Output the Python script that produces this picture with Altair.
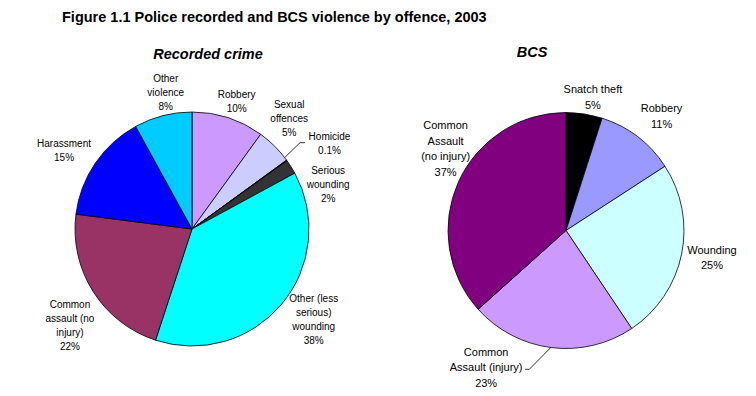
import altair as alt
import pandas as pd

FONT = "Liberation Sans, Arial, sans-serif"

# ---- Recorded crime (clockwise from 12 o'clock) ----
rec_cats = ["Robbery", "Sexual offences", "Homicide", "Serious wounding",
            "Other (less serious) wounding", "Common assault (no injury)",
            "Harassment", "Other violence"]
rec_values = [10, 5, 0.1, 2, 38, 22, 15, 8]
rec_label_lines = ["Robbery", "Sexual\noffences", "Homicide", "Serious\nwounding",
                   "Other (less\nserious)\nwounding", "Common\nassault (no\ninjury)",
                   "Harassment", "Other\nviolence"]
rec_colors = ["#CC99FF", "#CCCCFF", "#000000", "#333333",
              "#00FFFF", "#993366", "#0000FF", "#00CCFF"]

# ---- BCS (clockwise from 12 o'clock) ----
bcs_cats = ["Snatch theft", "Robbery", "Wounding",
            "Common Assault (injury)", "Common Assault (no injury)"]
bcs_values = [5, 11, 25, 23, 37]
bcs_label_lines = ["Snatch theft", "Robbery", "Wounding",
                   "Common\nAssault (injury)", "Common\nAssault\n(no injury)"]
bcs_colors = ["#000000", "#9999FF", "#CCFFFF", "#CC99FF", "#800080"]

# label layout (radius, dx, dy) -- placement only
rec_label_layout = [(135, 3, 1), (146, -6, -7), (161, 7, 9), (143, 15, 32),
                    (152, 5, -6), (155, 9, 14), (150, -4, 6), (138, 8, -2)]
bcs_label_layout = [(135, 6, 1), (149, 5, 5), (149, 0, -2),
                    (160, -60, -21), (145, 12, -22)]


def make_pie(cats, values, lines, colors, layout, cx, cy, r, fsize, lheight):
    df = pd.DataFrame({
        "cat": cats,
        "value": values,
        "idx": list(range(len(cats))),
        "label": [f"{l}\n{v:g}%" for l, v in zip(lines, values)],
    })
    base = alt.Chart(df)
    arcs = base.mark_arc(radius=r, stroke="black", strokeWidth=0.8).encode(
        theta=alt.Theta("value:Q", stack=True),
        color=alt.Color("cat:N", scale=alt.Scale(domain=cats, range=colors), legend=None),
        order=alt.Order("idx:Q"),
        x=alt.value(cx), y=alt.value(cy),
    )
    layers = [arcs]
    for i, (rad, dx, dy) in enumerate(layout):
        n_lines = df["label"][i].count("\n") + 1
        dy_eff = dy - (n_lines - 1) * lheight / 2  # centre the text block
        t = base.transform_calculate(
            t=f"datum.idx == {i} ? datum.label : ''"
        ).mark_text(
            radius=rad, dx=dx, dy=dy_eff, font=FONT, fontSize=fsize,
            lineBreak="\n", lineHeight=lheight, align="center",
            baseline="middle", color="black",
        ).encode(
            theta=alt.Theta("value:Q", stack=True),
            order=alt.Order("idx:Q"),
            detail="cat:N",
            text="t:N",
            x=alt.value(cx), y=alt.value(cy),
        )
        layers.append(t)
    return alt.layer(*layers)


def text_layer(txt, x, y, size, weight="normal", style="normal", align="left"):
    return alt.Chart(pd.DataFrame({"t": [txt]})).mark_text(
        font=FONT, fontSize=size, fontWeight=weight, fontStyle=style,
        align=align, baseline="alphabetic", color="black",
    ).encode(text="t:N", x=alt.value(x), y=alt.value(y))


def leader(x1, y1, x2, y2):
    return alt.Chart(pd.DataFrame({"a": [0]})).mark_rule(
        color="black", strokeWidth=0.8
    ).encode(x=alt.value(x1), y=alt.value(y1), x2=alt.value(x2), y2=alt.value(y2))


left_pie = make_pie(rec_cats, rec_values, rec_label_lines, rec_colors,
                    rec_label_layout, 184, 221, 117, 10, 14)
right_pie = make_pie(bcs_cats, bcs_values, bcs_label_lines, bcs_colors,
                     bcs_label_layout, 558, 222.5, 118, 11, 15.5)

decor = [
    text_layer("Figure 1.1 Police recorded and BCS violence by offence, 2003",
               54, 14, 14.5, weight="bold"),
    text_layer("Recorded crime", 200, 50.5, 14.5, weight="bold", style="italic", align="center"),
    text_layer("BCS", 524, 49.3, 14.5, weight="bold", style="italic", align="center"),
    leader(277, 149.3, 292, 134.7),
    leader(292, 134.7, 297, 134.7),
    leader(517, 361.3, 521.3, 361.3),
    leader(521.3, 361.3, 543, 339.3),
]

chart = alt.layer(left_pie, right_pie, *decor).resolve_scale(
    color="independent", theta="independent"
).properties(
    width=740, height=380,
    padding=0, background="white",
    autosize=alt.AutoSizeParams(type="none"),
).configure_view(stroke=None)

chart.save("out.html", embed_options={"renderer": "svg", "actions": False})
